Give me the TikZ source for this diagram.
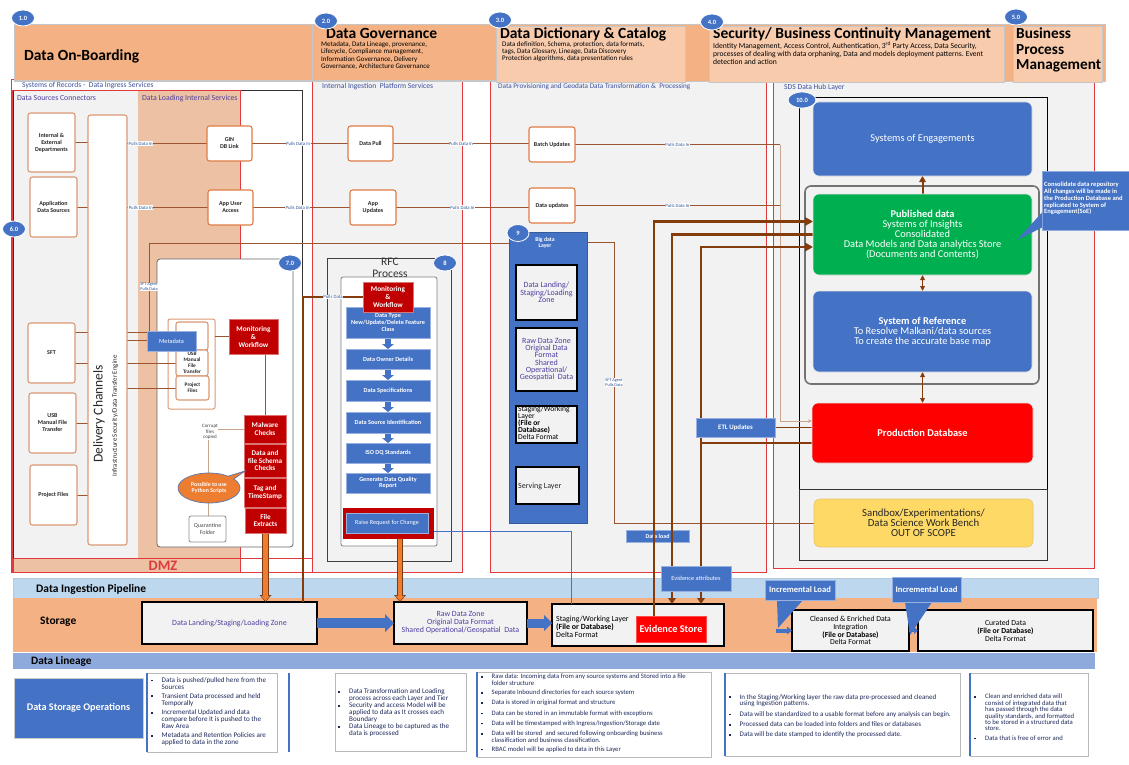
\documentclass[tikz,border=0pt]{standalone}
\usepackage{fontspec}
\setmainfont{Carlito}
\usetikzlibrary{arrows.meta,shapes.geometric,shapes.callouts,calc}
\definecolor{hdrOr}{HTML}{F4B183}
\definecolor{hdrPe}{HTML}{F8CBAD}
\definecolor{bdg}{HTML}{4472C4}
\definecolor{pgray}{HTML}{F2F2F2}
\definecolor{pred}{HTML}{E0393E}
\definecolor{srcB}{HTML}{D99A74}
\definecolor{srcO}{HTML}{E07B45}
\definecolor{cnB}{HTML}{9C5530}
\definecolor{lbr}{HTML}{C9A48C}
\definecolor{lbl}{HTML}{2F5597}
\definecolor{thk}{HTML}{843C0C}
\definecolor{orA}{HTML}{ED7D31}
\definecolor{orD}{HTML}{7A3A12}
\definecolor{dred}{HTML}{C00000}
\definecolor{peachL}{HTML}{EDC1A3}
\definecolor{grn}{HTML}{00B050}
\definecolor{yel}{HTML}{FFD966}
\definecolor{pipe}{HTML}{BDD7EE}
\definecolor{lin}{HTML}{8EA9DB}
\definecolor{purp}{HTML}{4E3FA0}
\definecolor{nt}{HTML}{1F2A5C}
\definecolor{ptit}{HTML}{3B4F9C}
\pgfdeclarelayer{back}
\pgfdeclarelayer{wires}
\pgfsetlayers{back,wires,main}
\newcommand{\fs}[2]{\fontsize{#1}{#2}\selectfont}
\newcommand{\bx}[7]{\node[#6, minimum width={(#4)-(#2)}, minimum height={(#5)-(#3)}, inner sep=0pt, outer sep=0pt] (#1) at ({((#2)+(#4))/2},{((#3)+(#5))/2}) {#7};}
\newlength{\bhang}\newlength{\bgap}
\newcommand{\bi}[1]{\noindent\makebox[\bhang][l]{\rule[1pt]{1.6pt}{1.6pt}}\parbox[t]{250pt}{\raggedright #1}\par\vspace{\bgap}}
\newcommand{\oarrow}[2]{\draw[line width=6.5pt, draw=orD, -{Triangle[width=12pt 0, length=7pt 0, line width=0pt]}] #1 -- #2; \draw[line width=4.6pt, draw=orA, -{Triangle[width=9pt 0, length=5pt 0, line width=0pt]}, shorten >=1.1pt] #1 -- #2;}
\begin{document}
\begin{tikzpicture}[x=1pt, y=-1pt,
  badge/.style={ellipse, fill=bdg, draw=white, line width=0.8pt, text=white, font=\bfseries\fs{6.5}{7}, minimum width=23pt, minimum height=16pt, inner sep=0pt},
  hbox/.style={draw=gray!45, line width=0.6pt},
  src/.style={draw=srcB, line width=1.1pt, fill=white, rounded corners=2.5pt, align=center, font=\bfseries\fs{6}{7}, text=black!85},
  srco/.style={src, draw=srcO},
  cn/.style={draw=cnB, line width=0.7pt},
  lcn/.style={draw=lbr, line width=0.9pt},
  lab/.style={fill=white, inner sep=0.4pt, text=lbl, font=\fs{4.8}{5.4}},
  redb/.style={fill=dred, draw=dred!55!white, line width=0.6pt, text=white, align=center, font=\bfseries\fs{7.2}{7.8}},
  blu/.style={fill=bdg, draw=bdg!55!white, line width=0.5pt, text=white, align=center, font=\bfseries\fs{6.2}{6.6}},
  zone/.style={fill=pgray, draw=black, line width=1.2pt, align=center, text=purp, font=\fs{8}{7.3}},
  stor/.style={fill=pgray, draw=black, line width=1.3pt, align=center, text=purp, font=\fs{7.9}{8}},
  hubb/.style={fill=bdg, draw=white!80!gray, line width=0.6pt, rounded corners=6pt, text=white, align=center, font=\fs{10.4}{9.9}},
  nbox/.style={fill=white, draw=gray!55, line width=0.6pt},
  ttl/.style={anchor=west, inner sep=0pt, font=\bfseries\fs{15.5}{17}},
  ptl/.style={anchor=west, inner sep=0pt, text=ptit, font=\fs{7.6}{8}},
]
\useasboundingbox (0,0) rectangle (1129,765);

%================ BACK LAYER =================
\begin{pgfonlayer}{back}
\fill[white] (0,0) rectangle (1129,765);
\draw[pred, line width=0.8pt, fill=white] (11,79) rectangle (312,572);
\draw[black!80, line width=0.6pt, fill=pgray] (13,90) rectangle (138,558);
\draw[black!80, line width=0.6pt, fill=white] (138,90) rectangle (302,558);
\fill[peachL] (138.3,90.3) rectangle (240,557.7);
\draw[pred, line width=0.8pt] (12,90) rectangle (240,572);
\draw[pred, line width=0.8pt, fill=peachL] (13,558) rectangle (240,572);
\draw[pred, line width=0.8pt] (240,558) rectangle (312,572);
\draw[pred, line width=0.8pt, fill=pgray] (312,79) rectangle (462,572);
\draw[pred, line width=0.8pt, fill=pgray] (490,79) rectangle (766,572);
\draw[pred, line width=0.8pt, fill=pgray] (773,79) rectangle (1094,568);
\bx{box7}{157}{259}{293}{547}{draw=gray!80!black, line width=0.8pt, fill=white, rounded corners=3pt}{}
\bx{grp}{168}{319}{215}{409}{draw=srcB, line width=1pt, fill=white, rounded corners=2pt}{}
\bx{rfc}{327}{258}{451}{561}{draw=black!75, line width=0.9pt, fill=pgray}{}
\bx{rfcI}{341}{277}{437}{546}{draw=gray, line width=0.8pt, fill=white, rounded corners=2pt}{}
\bx{bdl}{509}{232}{587}{523}{fill=bdg, draw=bdg!80!black, line width=0.4pt}{}
\bx{hubA}{799}{97}{1047}{489}{draw=black, line width=0.8pt, fill=pgray}{}
\bx{hubB}{799}{489}{1047}{560}{draw=black!80, line width=0.8pt, fill=pgray}{}
\bx{grayR}{805}{186}{1039}{384}{draw=gray!90!black, line width=1.6pt, rounded corners=6pt}{}
\bx{dld}{626}{530}{689}{542}{blu, font=\bfseries\fs{6}{6.5}}{Data load}
\draw[pipe!85!gray, fill=pipe, line width=0.5pt] (13,578) rectangle (1098,598);
\fill[hdrOr] (13,598) rectangle (1097,652);
\fill[lin] (13,653) rectangle (1095,669);
\bx{dls}{142}{602}{317}{644}{stor}{Data Landing/Staging/Loading Zone}
\bx{rdz}{394}{602}{527}{644}{stor}{Raw Data Zone\\Original Data Format\\Shared Operational/Geospatial\ \ Data}
\bx{stg}{552}{604}{724}{646}{stor}{}
\bx{cln}{792}{610}{909}{651}{stor, text=black, font=\fs{7.7}{7.7}}{Cleansed \& Enriched Data\\Integration\\\textbf{(File or Database)}\\Delta Format}
\bx{cur}{918}{610}{1093}{651}{stor, text=black, font=\fs{7.7}{7.9}}{Curated Data\\\textbf{(File or Database)}\\Delta Format}
\end{pgfonlayer}

%================ MAIN: header =================
\bx{hband}{14}{24}{1105}{81}{hbox, fill=hdrOr}{}
\bx{onb}{14}{24}{312}{80}{hbox, fill=hdrOr}{}
\bx{gov}{312}{24}{496}{80}{hbox, fill=hdrOr}{}
\bx{dict}{496}{26}{685}{82}{hbox, fill=hdrPe}{}
\bx{sec}{709}{26}{1004}{82}{hbox, fill=hdrPe}{}
\bx{bpm}{1013}{26}{1102}{82}{hbox, fill=hdrPe}{}
\node[ttl] (onbT) at (24,56) {Data On-Boarding};
\node[ttl] (govT) at (326,33) {Data Governance};
\node[anchor=north west, align=left, inner sep=0pt, font=\fs{7}{7.3}] (govS) at (321,41.5) {Metadata, Data Lineage, provenance,\\Lifecycle, Compliance management,\\Information Governance, Delivery\\Governance, Architecture Governance};
\node[ttl] (dictT) at (500,34) {Data Dictionary \& Catalog};
\node[anchor=north west, align=left, inner sep=0pt, font=\fs{7}{7}] (dictS) at (502,41) {Data definition, Schema, protection, data formats,\\tags, Data Glossary, Lineage, Data Discovery\\Protection algorithms, data presentation rules};
\node[ttl] (secT) at (713,34.5) {Security/ Business Continuity Management};
\node[anchor=north west, align=left, inner sep=0pt, font=\fs{7.6}{8}] (secS) at (713,42) {Identity Management, Access Control, Authentication, 3\textsuperscript{rd} Party Access, Data Security,\\processes of dealing with data orphaning, Data and models deployment patterns. Event\\detection and action};
\node[anchor=north west, align=left, inner sep=0pt, font=\bfseries\fs{15.3}{15.5}] (bpmT) at (1016,28) {Business\\Process\\Management};

\node[ptl] (t1) at (22,86) {Systems of Records -\ \ Data Ingress Services};
\node[ptl] (t2) at (322,87) {Internal Ingestion\ \ Platform Services};
\node[ptl, font=\fs{7.2}{8}] (t3) at (498,86.5) {Data Provisioning and Geodata Data Transformation \&\ \ Processing};
\node[ptl] (t4) at (784,87) {SDS Data Hub Layer};
\node[ptl, text=purp, font=\fs{7.8}{8}] (t5) at (17,98) {Data Sources Connectors};
\node[ptl, text=purp, font=\fs{7.8}{8}] (t6) at (142,98) {Data Loading Internal Services};
\node[text=pred, font=\bfseries\fs{14.5}{15}, inner sep=0pt] (dmz) at (163,565.5) {DMZ};

% sources
\bx{ied}{28}{113}{75}{172}{src}{Internal \&\\External\\Departments}
\bx{ads}{30}{177}{77}{237}{src}{Application\\Data Sources}
\bx{sft}{28}{323}{75}{383}{src}{SFT}
\bx{usb}{29}{393}{76}{453}{src}{USB\\Manual File\\Transfer}
\bx{prj}{30}{465}{77}{525}{src}{Project Files}
\bx{dc}{88}{115}{127}{545}{src}{}
\node[rotate=90, font=\fs{13.5}{15}, text=black!85, inner sep=0pt] (dcT) at (99,414) {Delivery Channels};
\node[rotate=90, font=\fs{6.8}{7}, text=black!85, inner sep=0pt] (dcS) at (115,416) {Infrastructure Security/Data Transfer Engine};

\bx{gin}{207}{126}{252}{161}{srco}{GIN\\DB Link}
\bx{aua}{208}{190}{253}{225}{srco}{App User\\Access}
\bx{dpl}{348}{126}{393}{161}{srco}{Data Pull}
\bx{aup}{350}{190}{396}{225}{srco}{App\\Updates}
\bx{bat}{529}{127}{575}{162}{srco}{Batch Updates}
\bx{dup}{529}{188}{575}{223}{srco}{Data updates}

% 7.0 internals
\bx{ib1}{176}{322}{208}{350}{src}{}
\bx{ib2}{176}{350}{208}{376}{src, font=\bfseries\fs{5.3}{6}}{USB\\Manual\\File\\Transfer}
\bx{ib3}{176}{376}{209}{400}{src, font=\bfseries\fs{5.3}{6}}{Project\\Files}
\bx{meta}{147}{331}{196}{351}{blu, font=\fs{6.3}{6.5}}{Metadata}
\bx{mon1}{229}{319}{278}{354}{redb, font=\bfseries\fs{7.3}{8}}{Monitoring\\\&\\Workflow}
\bx{mal}{244}{415}{286}{443}{redb}{Malware\\Checks}
\bx{dsch}{244}{444}{286}{477}{redb}{Data and\\file Schema\\Checks}
\bx{tag}{244}{478}{286}{507}{redb}{Tag and\\TimeStamp}
\bx{fex}{245}{508}{286}{533}{redb}{File\\Extracts}
\bx{quar}{189}{516}{226}{542}{draw=gray!90, line width=0.8pt, fill=white, rounded corners=2pt, align=center, text=black!70, font=\fs{6}{6.5}}{Quarantine\\Folder}

% RFC
\node[align=center, font=\fs{11.5}{11.5}, text=black!80, inner sep=0pt] (rfcT) at (390,268) {RFC\\Process};
\bx{r1}{346}{307}{430}{338}{blu}{Data Type\\New/Update/Delete Feature\\Class}
\bx{r2}{346}{349}{430}{369}{blu}{Data Owner Details}
\bx{r3}{346}{380}{430}{401}{blu}{Data Specifications}
\bx{r4}{346}{412}{430}{433}{blu}{Data Source Identification}
\bx{r5}{346}{443}{430}{463}{blu}{ISO DQ Standards}
\bx{r6}{346}{473}{430}{493}{blu}{Generate Data Quality\\Report}
\bx{mon2}{363}{282}{413}{312}{redb, font=\bfseries\fs{7.3}{7.6}}{Monitoring\\\&\\Workflow}
\bx{rrc}{343}{508}{433}{538}{fill=dred, draw=dred}{}
\bx{rrcI}{346}{513}{428}{533}{blu, font=\fs{6.2}{6.5}}{Raise Request for Change}

% big data
\node[text=white, font=\bfseries\fs{5.8}{6.2}, align=center, inner sep=0pt] (bdlT) at (545,243) {Big data\\Layer};
\bx{z1}{516}{265}{577}{320}{zone}{Data Landing/\\Staging/Loading\\Zone}
\bx{z2}{516}{328}{577}{391}{zone}{Raw Data Zone\\Original Data\\Format\\Shared\\Operational/\\Geospatial\ \ Data}
\bx{z3}{516}{406}{577}{443}{zone}{}
\node[anchor=north west, align=left, inner sep=0pt, font=\fs{7.6}{7.1}, text=black] (z3T) at (518,406) {Staging/Working\\Layer\\\textbf{(File or}\\\textbf{Database)}\\Delta Format};
\bx{z4}{516}{467}{579}{504}{zone}{}
\node[anchor=west, font=\fs{8}{8}, text=black!85, inner sep=0pt] (z4T) at (518,486) {Serving Layer};
\bx{etl}{696}{418}{775}{437}{blu, font=\bfseries\fs{6.8}{7}}{ETL Updates}

% hub
\bx{soe}{813}{102}{1032}{176}{hubb}{Systems of Engagements}
\bx{pub}{813}{194}{1032}{275}{hubb, fill=grn}{\textbf{Published data}\\Systems of Insights\\Consolidated\\Data Models and Data analytics Store\\(Documents and Contents)}
\bx{sor}{813}{291}{1032}{372}{hubb}{\textbf{System of Reference}\\To Resolve Malkani/data sources\\To create the accurate base map}
\bx{pdb}{812}{403}{1033}{463}{hubb, fill=red}{\textbf{Production Database}}
\bx{sbx}{814}{499}{1033}{547}{hubb, fill=yel, draw=yel!80!gray, text=black!85, font=\fs{10.8}{10.2}}{Sandbox/Experimentations/\\Data Science Work Bench\\OUT OF SCOPE}
\bx{cal}{1042}{171}{1129}{230}{fill=bdg, draw=bdg!60!white, line width=0.5pt}{}
\node[anchor=north west, align=left, inner sep=0pt, text=white, font=\bfseries\fs{6.5}{6.8}] (calT) at (1044,182) {Consolidate data repository\\All changes will be made in\\the Production Database and\\replicated to System of\\Engagement(SoE)};
\coordinate (ct) at (1017,240);
\fill[bdg] ([yshift=-12pt]cal.west) -- (ct) -- ([yshift=-27pt]cal.west) -- cycle;

% storage row
\node[anchor=west, align=left, inner sep=0pt, font=\fs{7.9}{7.8}, text=black] (stgT) at (556,627) {Staging/Working Layer\\\textbf{(File or Database)}\\Delta Format};
\bx{eva}{661}{566}{731}{591}{blu, font=\fs{6.3}{6.5}}{Evidence attributes}
\bx{evs}{636}{616}{706}{642}{fill=red, draw=red!70!white, text=white, font=\bfseries\fs{10.3}{11}}{Evidence Store}
\bx{inc1}{765}{580}{835}{600}{blu, font=\bfseries\fs{8.6}{9}}{Incremental Load}
\bx{inc2}{892}{577}{961}{602}{blu, font=\bfseries\fs{8.6}{9}}{Incremental Load}
\node[anchor=west, font=\bfseries\fs{11.5}{12}, inner sep=0pt] (pipT) at (36,589) {Data Ingestion Pipeline};
\node[anchor=west, font=\bfseries\fs{11.5}{12}, inner sep=0pt] (stoT) at (40,622) {Storage};
\node[anchor=west, font=\bfseries\fs{11.3}{12}, inner sep=0pt] (linT) at (31,661) {Data Lineage};

% bottom notes
\bx{dso}{14}{678}{143}{738}{fill=bdg, draw=gray!40, line width=0.6pt, text=white, font=\bfseries\fs{10.2}{11}}{Data Storage Operations}
\bx{n1}{147}{673}{277}{752}{nbox}{}
\draw[bdg, line width=2pt] (n1.north west) -- (n1.south west);
\coordinate (vl1) at (289,673); \coordinate (vl2) at (289,752);
\draw[bdg, line width=1.6pt] (vl1) -- (vl2);
\bx{n2}{335}{673}{466}{751}{nbox}{}
\bx{n3}{477}{672}{711}{757}{nbox}{}
\draw[bdg, line width=2pt] (n3.north west) -- (n3.south west);
\bx{n4}{725}{673}{960}{756}{nbox}{}
\draw[bdg, line width=2pt] (n4.north west) -- (n4.south west);
\bx{n5}{970}{673}{1088}{756}{nbox}{}
\draw[bdg, line width=2pt] (n5.north west) -- (n5.south west);

\node[anchor=north west, inner sep=0pt, text=nt] (n1T) at (151,677) {\begin{minipage}[t]{124pt}\fs{7.1}{7}\setlength{\bhang}{10.5pt}\setlength{\bgap}{2.9pt}%
\bi{Data is pushed/pulled here from the\\Sources}\bi{Transient Data processed and held\\Temporally}\bi{Incremental Updated and data\\compare before It is pushed to the\\Raw Area}\bi{Metadata and Retention Policies are\\applied to data in the zone}\end{minipage}};
\node[anchor=north west, inner sep=0pt, text=nt] (n2T) at (338,688.5) {\begin{minipage}[t]{125pt}\fs{7.1}{6.6}\setlength{\bhang}{11pt}\setlength{\bgap}{0.5pt}%
\bi{Data Transformation and Loading\\process across each Layer and Tier}\bi{Security and access Model will be\\applied to data as It crosses each\\Boundary}\bi{Data Lineage to be captured as the\\data is processed}\end{minipage}};
\node[anchor=north west, inner sep=0pt, text=nt] (n3T) at (481,674) {\begin{minipage}[t]{228pt}\fs{6.7}{6.6}\setlength{\bhang}{10.5pt}\setlength{\bgap}{3.6pt}%
\bi{Raw data: Incoming data from any source systems and Stored into a file\\folder structure}\bi{Separate Inbound directories for each source system}\bi{Data is stored in original format and structure}\bi{Data can be stored in an immutable format with exceptions}\bi{Data will be timestamped with Ingress/Ingestion/Storage date}\bi{Data will be stored\ \ and secured following onboarding business\\classification and business classification.}\bi{RBAC model will be applied to data in this Layer}\end{minipage}};
\node[anchor=north west, inner sep=0pt, text=nt] (n4T) at (729,694) {\begin{minipage}[t]{228pt}\fs{7}{6.4}\setlength{\bhang}{10.5pt}\setlength{\bgap}{3.8pt}%
\bi{In the Staging/Working layer the raw data pre-processed and cleaned\\using Ingestion patterns.}\bi{Data will be standardized to a usable format before any analysis can begin.}\bi{Processed data can be loaded into folders and files or databases}\bi{Data will be date stamped to identify the processed date.}\end{minipage}};
\node[anchor=north west, inner sep=0pt, text=nt] (n5T) at (974,694) {\begin{minipage}[t]{112pt}\fs{6.7}{6.4}\setlength{\bhang}{11pt}\setlength{\bgap}{3.6pt}%
\bi{Clean and enriched data will\\consist of integrated data that\\has passed through the data\\quality standards, and formatted\\to be stored in a structured data\\store.}\bi{Data that is free of error and}\end{minipage}};

\node[ellipse callout, callout absolute pointer={(245,471)}, fill=orA, draw=bdg!70!gray, line width=0.7pt, minimum width=62pt, minimum height=30pt, inner sep=0pt, align=center, text=white, font=\bfseries\fs{5.8}{6.6}] (py) at (209,488) {Possible to use\\Python Scripts};

% badges
\node[badge] (b1) at (23,18) {1.0};
\node[badge] (b2) at (326,21) {2.0};
\node[badge] (b3) at (500,20) {3.0};
\node[badge] (b4) at (712,22) {4.0};
\node[badge] (b5) at (1016,17) {5.0};
\node[badge] (b6) at (14,229) {6.0};
\node[badge] (b7) at (290,263) {7.0};
\node[badge] (b8) at (445,263) {8};
\node[badge, minimum width=22pt, minimum height=17pt] (b9) at (518,233) {9};
\node[badge, minimum width=28pt] (b10) at (802,100) {10.0};

%================ WIRES =================
\begin{pgfonlayer}{wires}
\draw[cn] (ied.east) -- (ied.east -| dc.west);
\draw[cn] (ads.east) -- (ads.east -| dc.west);
\coordinate (s1) at ([yshift=-9pt]sft.north east);
\coordinate (s2) at ([yshift=20pt]sft.south east);
\draw[cn] (s1) -- (s1 -| dc.west);
\draw[cn] (s2) -- (s2 -| dc.west);
\draw[cn] (usb.east) -- (usb.east -| dc.west);
\draw[cn] (prj.east) -- (prj.east -| dc.west);
\draw[cn] (dc.east |- gin.west) -- node[lab, pos=0.17]{Pulls Data In} (gin.west);
\draw[cn] (dc.east |- aua.west) -- node[lab, pos=0.17]{Pulls Data In} (aua.west);
\draw[cn] (gin.east) -- node[lab, pos=0.48]{Pulls Data In} (gin.east -| dpl.west);
\draw[cn] (aua.east) -- node[lab, pos=0.46]{Pulls Data In} (aua.east -| aup.west);
\draw[cn] (dpl.east) -- node[lab, pos=0.5]{Pulls Data In} (dpl.east -| bat.west);
\draw[cn] (aup.east) -- node[lab, pos=0.5]{Pulls Data In} (aup.east -| dup.west);
\coordinate (vx) at (780,0);
\draw[cn] (bat.east) -- node[lab, pos=0.5]{Pulls Data In} (bat.east -| vx);
\draw[cn] (dup.east) -- node[lab, pos=0.5]{Pulls Data In} (dup.east -| vx);
\coordinate (pq) at ([yshift=12pt]pdb.west);
\draw[lcn, -{Stealth[length=4pt,width=3.5pt]}] (bat.east -| vx) -- (pq -| vx) -- (pq);
\coordinate (mx) at (149,0);
\coordinate (my) at (0,243);
\draw[cn] (mx |- meta.north) -- node[lab, pos=0.5, align=center, font=\fs{4.3}{4.8}]{SFT Agent\\Pulls Data} (mx |- my) -- (my -| bdl.west);
\coordinate (m1) at ([yshift=-1pt]meta.north west);
\coordinate (m2) at ([yshift=-9pt]meta.north west);
\draw[cn] (m1 -| dc.east) -- (m1);
\draw[cn] (m2 -| dc.east) -- (m2);
\draw[cn] (dc.east |- ib2) -- (ib2.west);
\draw[cn] (dc.east |- ib3) -- (ib3.west);
\draw[cn] (mon1.west -| grp.east) -- (mon1.west);
\draw[cn] (mal.north) -- (mal.north |- mon1.south);
\coordinate (qx) at (208,0);
\draw[lcn] (mal.west) -- (mal.west -| qx) -- (qx |- quar.north);
\node[font=\fs{5}{5.6}, align=center, text=black!75, fill=white, inner sep=0.3pt] (cfc) at (210,432) {Corrupt\\files\\copied};
\oarrow{(fex.south)}{(fex.south |- dls.north)}
\coordinate (oa2) at ([xshift=12pt]rrc.south);
\oarrow{(oa2)}{(oa2 |- rdz.north)}
\coordinate (kx) at (303,0);
\draw[thk, line width=2.6pt] (mon2.west) -- node[lab, pos=0.5]{Pulls Data} (mon2.west -| kx) -- (kx |- dls.north);
\foreach \a/\b in {r1/r2,r2/r3,r3/r4,r4/r5,r5/r6}
  \draw[bdg, line width=6pt, -{Triangle[width=12pt 0, length=5pt 0, line width=0pt]}] (\a.south) -- (\b.north);
\coordinate (rq) at ([yshift=-8pt]rrc.east);
\coordinate (bxl) at (571,0);
\draw[bdg, line width=0.7pt] (rq) -- (rq -| bxl) -- (bxl |- stg.north);
\coordinate (b9c) at ([yshift=-10pt]bdl.north east);
\coordinate (x614) at (614,0);
\draw[cn] (b9c) -- (b9c -| x614) -- node[lab, pos=0.5, align=center, font=\fs{4.3}{4.8}]{SFT Agent\\Pulls Data} (x614 |- sbx.west) -- (sbx.west);
\coordinate (x1) at (654,0); \coordinate (x2) at (672,0); \coordinate (x3) at (701,0);
\coordinate (p1) at ([yshift=13pt]pub.west);
\coordinate (p2) at (pub.west);
\coordinate (p3) at ([yshift=-12.5pt]pub.west);
\coordinate (p4) at ([yshift=-10pt]pdb.west);
\draw[thk, line width=2.6pt, -{Triangle[width=9pt 0, length=8pt 0, line width=0pt]}] (x1 |- evs.north) -- (x1 |- p1) -- (p1);
\draw[thk, line width=2.6pt] (x2 |- eva.north) -- (x2 |- p2) -- (p2);
\draw[thk, line width=2.6pt, -{Triangle[width=9pt 0, length=8pt 0, line width=0pt]}] (x3 |- eva.north) -- (x3 |- p3) -- (p3);
\draw[thk, line width=2.6pt] (x3 |- eva.north) -- (x3 |- p4) -- (p4);
\draw[thk, line width=1.8pt] (etl.east) -- (etl.east -| pdb.west);
\draw[thk, line width=2.2pt, -{Triangle[width=8pt 0, length=6pt 0, line width=0pt]}] (x2 |- eva.south) -- (x2 |- stg.north);
\draw[thk, line width=2.2pt, -{Triangle[width=8pt 0, length=6pt 0, line width=0pt]}] (x3 |- eva.south) -- (x3 |- stg.north);
\draw[thk, line width=2pt, -{Triangle[width=7pt 0, length=6pt 0, line width=0pt]}] (pub.north) -- (soe.south);
\draw[thk, line width=1.2pt, {Triangle[width=5pt 0, length=5pt 0, line width=0pt]}-{Triangle[width=5pt 0, length=5pt 0, line width=0pt]}] (pub.south) -- (sor.north);
\draw[thk, line width=1.2pt, {Triangle[width=5pt 0, length=5pt 0, line width=0pt]}-{Triangle[width=5pt 0, length=5pt 0, line width=0pt]}] (sor.south) -- (pdb.north);
\draw[bdg, line width=10pt, -{Triangle[width=18pt 0, length=9pt 0, line width=0pt]}] (dls.east) -- (rdz.west);
\draw[bdg, line width=9pt, -{Triangle[width=16pt 0, length=8pt 0, line width=0pt]}] (rdz.east) -- (rdz.east -| stg.west);
\draw[bdg, line width=4pt, -{Triangle[width=8pt 0, length=5pt 0, line width=0pt]}] ([xshift=-16pt]cln.west) -- (cln.west);
\draw[bdg, line width=3pt, -{Triangle[width=7pt 0, length=4pt 0, line width=0pt]}] (cln.east) -- (cln.east -| cur.west);
\coordinate (tp1) at (778,628);
\fill[bdg] ([xshift=12pt]inc1.south west) -- (tp1) -- ([xshift=38pt]inc1.south west) -- cycle;
\coordinate (tp2) at (910,635);
\fill[bdg] ([xshift=13pt]inc2.south west) -- (tp2) -- ([xshift=40pt]inc2.south west) -- cycle;
\end{pgfonlayer}
\end{tikzpicture}
\end{document}
